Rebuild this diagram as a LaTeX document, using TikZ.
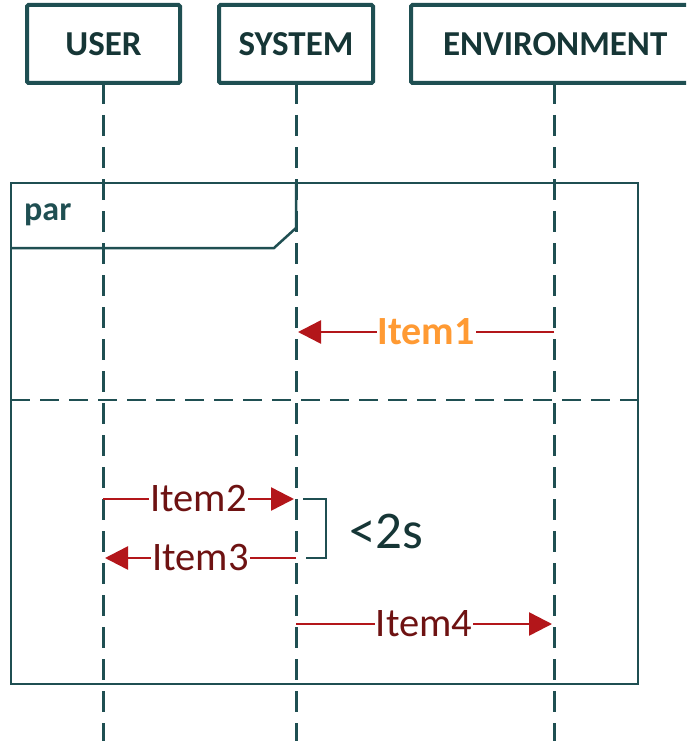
\documentclass[tikz,border=0pt]{standalone}
\usepackage{fontspec}
\setmainfont{Carlito}
\usetikzlibrary{arrows.meta}
\definecolor{teal1}{HTML}{1F4F52}
\definecolor{hdtext}{HTML}{163636}
\definecolor{arrred}{HTML}{B3161A}
\definecolor{itemred}{HTML}{6E1212}
\definecolor{itemorange}{HTML}{FF9A33}
\tikzset{
  hdbox/.style={draw=teal1, line width=4pt, rounded corners=1.5pt, fill=white, font=\fontsize{35}{35}\selectfont\bfseries, text=hdtext, inner sep=0pt},
  lifeline/.style={draw=teal1, line width=3pt, dash pattern=on 21pt off 11pt},
  framestyle/.style={draw=teal1, line width=2.5pt},
  msg/.style={draw=arrred, line width=2.5pt, -{Triangle[length=23pt,width=23pt]}},
  msglabel/.style={fill=white, inner sep=1pt, text=itemred, font=\fontsize{40.5}{40.5}\selectfont},
}
\begin{document}
\begin{tikzpicture}[x=1pt,y=-1pt]
\useasboundingbox (0,0) rectangle (686,741);
\clip (0,0) rectangle (686,741);
\fill[white] (0,0) rectangle (686,741);
% lifelines
\coordinate (uTop) at (103,83);
\coordinate (sTop) at (296,83);
\coordinate (eTop) at (554,83);
\coordinate (uBot) at (103,745);
\coordinate (sBot) at (296,745);
\coordinate (eBot) at (554,745);
\draw[lifeline] (uTop) -- (uBot);
\draw[lifeline] (sTop) -- (sBot);
\draw[lifeline] (eTop) -- (eBot);
% header boxes
\node[hdbox, minimum width=153pt, minimum height=78pt] (user) at (103.5,44) {USER};
\node[hdbox, minimum width=154pt, minimum height=78pt] (sys) at (296,44) {SYSTEM};
\node[hdbox, minimum width=286pt, minimum height=78pt, text width=286pt, align=left] (env) at (554,44) {\hspace*{32pt}ENVIRONMENT};
% par frame
\draw[framestyle] (11,183) rectangle (638,684);
\draw[framestyle] (11,248) -- (274,248) -- (296,228) -- (296,183);
\node[font=\fontsize{34}{34}\selectfont\bfseries, text=teal1, anchor=west, inner sep=0pt] (par) at (24,215) {par};
\draw[draw=teal1, line width=2.5pt, dash pattern=on 19pt off 10pt] (11,400) -- (638,400);
% message coordinates
\coordinate (m1s) at (554,332);
\coordinate (m1e) at (298,332);
\coordinate (m2s) at (103,499);
\coordinate (m2e) at (294,499);
\coordinate (m3s) at (296,558);
\coordinate (m3e) at (105,558);
\coordinate (m4s) at (296,624);
\coordinate (m4e) at (552,624);
\draw[msg] (m1s) -- node[msglabel, text=itemorange, font=\fontsize{40}{40}\selectfont\bfseries] (l1) {Item1} (m1e);
\draw[msg] (m2s) -- node[msglabel] (l2) {Item2} (m2e);
\draw[msg] (m3s) -- node[msglabel] (l3) {Item3} (m3e);
\draw[msg] (m4s) -- node[msglabel] (l4) {Item4} (m4e);
% bracket
\coordinate (b1) at (303,499);
\coordinate (b2) at (306,558);
\draw[teal1, line width=2.5pt] (b1) -- (326,499) -- (326,558) -- (b2);
\node[font=\fontsize{53}{53}\selectfont, text=hdtext, anchor=west, inner sep=0pt] (lim) at (349,531) {<2s};
\end{tikzpicture}
\end{document}
